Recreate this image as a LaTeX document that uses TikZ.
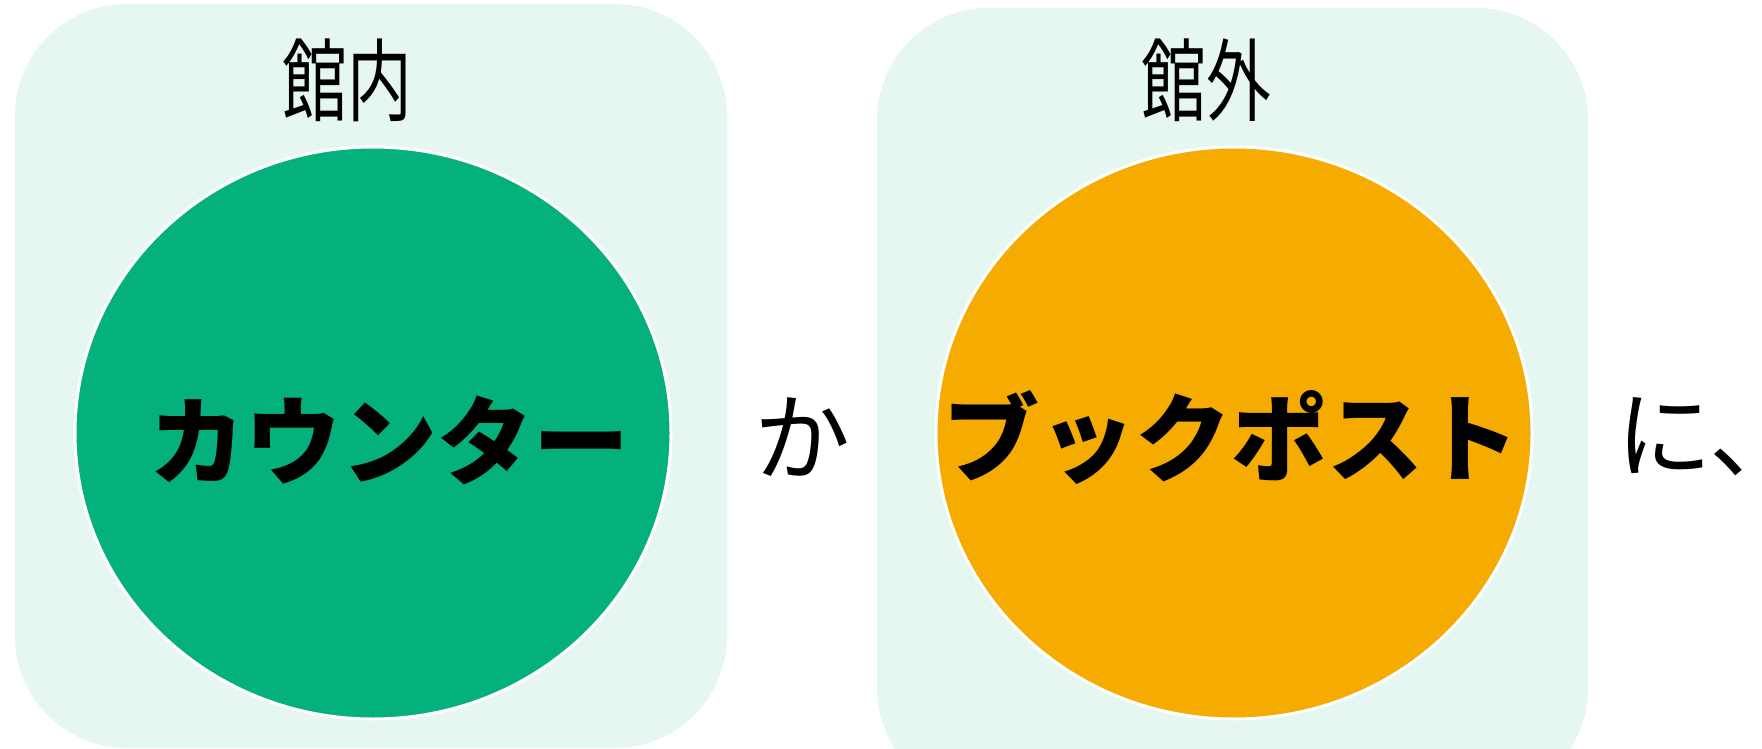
\documentclass[tikz,border=0pt]{standalone}
\usepackage{fontspec}
\newfontfamily\jpfont{Noto Sans CJK JP}
\usetikzlibrary{shapes.geometric}
\definecolor{boxbg}{RGB}{230,246,240}
\definecolor{countergreen}{RGB}{4,176,123}
\definecolor{postorange}{RGB}{245,171,0}
\tikzset{
  area/.style={fill=boxbg, rounded corners=56pt},
  blob/.style={ellipse, draw=white, line width=1.5pt, minimum width=298pt, minimum height=286pt, inner sep=0pt},
  title/.style={font=\jpfont\fontsize{45}{50}\selectfont, xscale=0.72, inner sep=0pt},
  bigtxt/.style={font=\jpfont\bfseries\fontsize{48}{54}\selectfont, inner sep=0pt},
  plaintxt/.style={font=\jpfont\fontsize{48}{54}\selectfont, inner sep=0pt}
}
\begin{document}
\begin{tikzpicture}[x=0.5pt, y=-0.5pt, line join=round]
  \clip (0,0) rectangle (1762,749);
  \fill[white] (0,0) rectangle (1762,749);
  % 館内 / 館外
  \fill[area] (15,4) rectangle (727,748);
  \fill[area] (877,8) rectangle (1588,800);
  \node[blob, fill=countergreen] (inner) at (373,433) {};
  \node[blob, fill=postorange] (outer) at (1234,433) {};
  \node[title] (innertitle) at (347,80) {館内};
  \node[title] (outertitle) at (1206,80) {館外};
  % labels
  \node[bigtxt] (counter) at (389,440) {カウンター};
  \node[bigtxt] (bookpost) at (1231,437) {ブックポスト};
  \node[plaintxt] (ka) at (802,437) {か};
  \node[plaintxt, anchor=west] (ni) at (1616,437) {に、};
\end{tikzpicture}
\end{document}
